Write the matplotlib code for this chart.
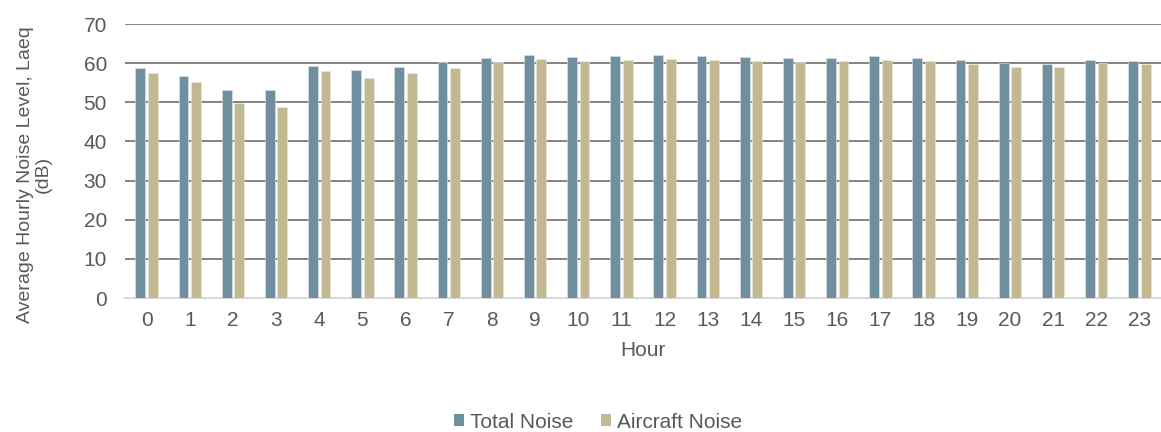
import matplotlib
matplotlib.use("Agg")
import matplotlib.pyplot as plt
import numpy as np
from matplotlib.patches import Patch

hours = [str(h) for h in range(24)]
total_noise = [58.7, 56.6, 53.2, 53.1, 59.3, 58.2, 58.9, 60.3,
               61.2, 62.0, 61.6, 61.7, 62.1, 61.9, 61.6, 61.2,
               61.3, 61.7, 61.3, 60.7, 60.0, 59.9, 60.9, 60.5]
aircraft_noise = [57.6, 55.2, 49.8, 48.8, 58.1, 56.2, 57.6, 58.8,
                  60.2, 61.0, 60.5, 60.8, 61.1, 60.7, 60.5, 60.2,
                  60.5, 60.9, 60.5, 59.7, 59.0, 58.9, 60.1, 59.8]
y_ticks = [0, 10, 20, 30, 40, 50, 60, 70]

plt.rcParams['font.family'] = ['Liberation Sans', 'DejaVu Sans']
text_color = '#595959'
c_total = '#6F8F9E'
c_air = '#C2B993'
fs = 15

fig = plt.figure(figsize=(11.61, 4.32), dpi=100)
ax = fig.add_axes([125 / 1161, 1 - 298 / 432, 1036 / 1161, 274 / 432])

x = np.arange(len(hours))
w = 0.225
off = 0.145
ax.bar(x - off, total_noise, w, color=c_total, edgecolor='#dfe6ea', linewidth=0.4, zorder=3)
ax.bar(x + off, aircraft_noise, w, color=c_air, edgecolor='#eeebdd', linewidth=0.4, zorder=3)

ax.set_xlim(-0.5, len(hours) - 0.5)
ax.set_ylim(0, 70)
ax.set_yticks(y_ticks)
ax.set_xticks(x)
ax.set_xticklabels(hours)
ax.yaxis.grid(True, color='#7a7a7a', linewidth=1.3, zorder=0)
ax.set_axisbelow(True)
for s in ['top', 'right', 'left']:
    ax.spines[s].set_visible(False)
ax.spines['bottom'].set_color('#d9d9d9')
ax.spines['bottom'].set_linewidth(1.5)
ax.tick_params(axis='both', length=0, labelsize=fs, labelcolor=text_color)
ax.tick_params(axis='x', pad=9)
ax.tick_params(axis='y', pad=13)

ax.set_xlabel('Hour', fontsize=fs, color=text_color, labelpad=8)
ax.set_ylabel('Average Hourly Noise Level, Laeq\n(dB)', fontsize=14,
              color=text_color, linespacing=1.0)
ax.yaxis.set_label_coords(-0.071, 0.45)

handles = [Patch(facecolor=c_total, edgecolor='none', label='Total Noise'),
           Patch(facecolor=c_air, edgecolor='none', label='Aircraft Noise')]
fig.legend(handles=handles, loc='center', bbox_to_anchor=(598 / 1161, 1 - 422 / 432),
           ncol=2, frameon=False, fontsize=fs, labelcolor=text_color,
           handlelength=0.5, handleheight=0.5, handletextpad=0.3, columnspacing=1.3)

fig.savefig('out.png', dpi=100)
